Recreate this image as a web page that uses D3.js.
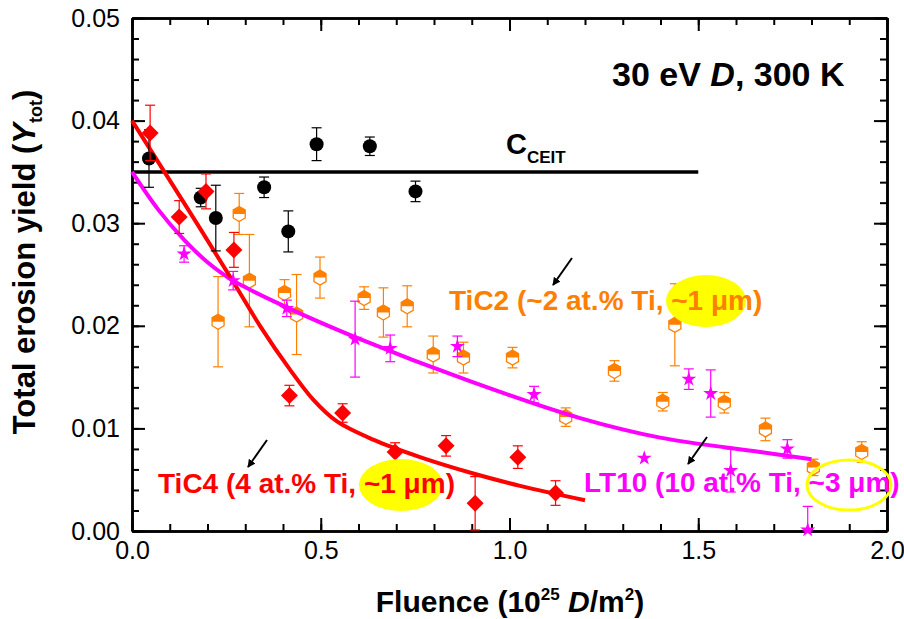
<!DOCTYPE html>
<meta charset="utf-8">
<script src="https://d3js.org/d3.v7.min.js"></script>
<style>
  body { margin: 0; background: #fff; }
  text { font-family: "Liberation Sans", Arial, sans-serif; }
</style>
<div id="chart"></div>
<script>

// C_CEIT reference (black circles)
var ceitX   = [0.045, 0.182, 0.222, 0.350, 0.414, 0.489, 0.630, 0.751];
var ceitY   = [0.0363, 0.0325, 0.0305, 0.0335, 0.0292, 0.0377, 0.0375, 0.0331];
var ceitErr = [0.0028, 0.0009, 0.0032, 0.0010, 0.0020, 0.0016, 0.0009, 0.0010];
var ceitLevel = [[0, 0.035], [1.5, 0.035]];

// TiC4 (red diamonds)
var tic4X   = [0.048, 0.125, 0.196, 0.270, 0.417, 0.558, 0.697, 0.832, 0.909, 1.022, 1.122];
var tic4Y   = [0.0388, 0.0306, 0.0331, 0.0274, 0.0132, 0.0115, 0.0077, 0.0083, 0.0027, 0.0072, 0.0037];
var tic4Err = [0.0027, 0.0016, 0.0017, 0.0017, 0.0010, 0.0009, 0.0009, 0.0010, 0.0026, 0.0011, 0.0012];
var tic4FitX = [0, 0.134, 0.268, 0.339, 0.419, 0.48, 0.542, 0.639, 0.763, 0.904, 1.028, 1.2];
var tic4FitY = [0.0400, 0.0322, 0.0243, 0.0200, 0.0157, 0.0128, 0.0107, 0.0089, 0.0072, 0.0056, 0.0044, 0.0030];

// TiC2 (orange half-filled hexagons)
var tic2X   = [0.228, 0.284, 0.311, 0.404, 0.436, 0.498, 0.615, 0.666, 0.729, 0.798, 0.878, 1.008, 1.149, 1.278, 1.406, 1.438, 1.569, 1.678, 1.805, 1.933];
var tic2Y   = [0.0204, 0.0309, 0.0244, 0.0232, 0.0211, 0.0247, 0.0227, 0.0213, 0.0219, 0.0172, 0.0169, 0.0169, 0.0111, 0.0156, 0.0126, 0.0201, 0.0125, 0.0099, 0.0062, 0.0077];
var tic2Err = [0.0044, 0.0020, 0.0045, 0.0013, 0.0039, 0.0020, 0.0011, 0.0024, 0.0020, 0.0018, 0.0015, 0.0010, 0.0009, 0.0010, 0.0009, 0.0040, 0.0010, 0.0011, 0.0008, 0.0010];

// LT10 (magenta stars)
var lt10X   = [0.138, 0.268, 0.410, 0.591, 0.684, 0.862, 1.065, 1.357, 1.475, 1.533, 1.586, 1.736, 1.790];
var lt10Y   = [0.0270, 0.0244, 0.0217, 0.0187, 0.0178, 0.0180, 0.0133, 0.0071, 0.0148, 0.0134, 0.0059, 0.0080, 0.0001];
var lt10Err = [0.0008, 0.0009, 0.0008, 0.0037, 0.0013, 0.0010, 0.0008, 0, 0.0010, 0.0023, 0.0021, 0.0009, 0.0023];
var lt10FitX = [0, 0.07, 0.14, 0.20, 0.268, 0.41, 0.591, 0.895, 1.187, 1.399, 1.664, 1.80];
var lt10FitY = [0.0350, 0.0313, 0.0283, 0.0262, 0.0244, 0.0218, 0.0189, 0.0146, 0.0110, 0.0091, 0.0077, 0.0070];

var xTicks = [0, 0.5, 1.0, 1.5, 2.0];
var yTicks = [0, 0.01, 0.02, 0.03, 0.04, 0.05];

var W = 904, H = 619;
var margin = {top: 18, right: 17, bottom: 88, left: 132},
    width = W - margin.left - margin.right,
    height = H - margin.top - margin.bottom;

var svg = d3.select("#chart")
  .append("svg")
    .attr("width", W)
    .attr("height", H)
  .append("g")
    .attr("transform", "translate(" + margin.left + "," + margin.top + ")");

var x = d3.scaleLinear().domain([0, 2.0]).range([0, width]);
var y = d3.scaleLinear().domain([0, 0.05]).range([height, 0]);

var xMinor = d3.range(0, 2.0001, 0.1);
var yMinor = d3.range(0, 0.05001, 0.002);

// minor ticks, all four sides, pointing in
svg.append("g").attr("class", "ax").attr("transform", "translate(0," + height + ")")
  .call(d3.axisBottom(x).tickValues(xMinor).tickSize(-7).tickSizeOuter(0).tickFormat(""));
svg.append("g").attr("class", "ax")
  .call(d3.axisTop(x).tickValues(xMinor).tickSize(-7).tickSizeOuter(0).tickFormat(""));
svg.append("g").attr("class", "ax")
  .call(d3.axisLeft(y).tickValues(yMinor).tickSize(-7).tickSizeOuter(0).tickFormat(""));
svg.append("g").attr("class", "ax").attr("transform", "translate(" + width + ",0)")
  .call(d3.axisRight(y).tickValues(yMinor).tickSize(-7).tickSizeOuter(0).tickFormat(""));

// major ticks with labels
svg.append("g").attr("class", "ax lab").attr("transform", "translate(0," + height + ")")
  .call(d3.axisBottom(x).tickValues(xTicks).tickSize(-13).tickSizeOuter(0).tickPadding(10).tickFormat(d3.format(".1f")));
svg.append("g").attr("class", "ax lab")
  .call(d3.axisLeft(y).tickValues(yTicks).tickSize(-13).tickSizeOuter(0).tickPadding(12).tickFormat(d3.format(".2f")));
svg.append("g").attr("class", "ax")
  .call(d3.axisTop(x).tickValues(xTicks).tickSize(-13).tickSizeOuter(0).tickFormat(""));
svg.append("g").attr("class", "ax").attr("transform", "translate(" + width + ",0)")
  .call(d3.axisRight(y).tickValues(yTicks).tickSize(-13).tickSizeOuter(0).tickFormat(""));

svg.selectAll(".ax path").attr("stroke", "#000").attr("stroke-width", 2.5);
svg.selectAll(".ax line").attr("stroke", "#000").attr("stroke-width", 2);
svg.selectAll(".lab text").attr("font-size", 25).attr("fill", "#000")
  .attr("font-family", "'Liberation Sans', Arial, sans-serif");

// helper to zip arrays
function zip(xs, ys, es) {
  return xs.map(function(v, i) { return {x: v, y: ys[i], e: es ? es[i] : 0}; });
}

var line = d3.line()
  .x(function(d) { return x(d[0]); })
  .y(function(d) { return y(d[1]); });

var fitLine = d3.line()
  .curve(d3.curveCatmullRom)
  .x(function(d) { return x(d.x); })
  .y(function(d) { return y(d.y); });

// error bars
function errorBars(data, color) {
  var g = svg.append("g").attr("stroke", color).attr("stroke-width", 1.2);
  data.filter(function(d) { return d.e > 0; }).forEach(function(d) {
    var t = y(Math.min(d.y + d.e, 0.05)), b = y(Math.max(d.y - d.e, 0));
    g.append("line").attr("x1", x(d.x)).attr("x2", x(d.x)).attr("y1", t).attr("y2", b);
    g.append("line").attr("x1", x(d.x) - 5).attr("x2", x(d.x) + 5).attr("y1", t).attr("y2", t);
    g.append("line").attr("x1", x(d.x) - 5).attr("x2", x(d.x) + 5).attr("y1", b).attr("y2", b);
  });
}

var ceit = zip(ceitX, ceitY, ceitErr);
var tic4 = zip(tic4X, tic4Y, tic4Err);
var tic2 = zip(tic2X, tic2Y, tic2Err);
var lt10 = zip(lt10X, lt10Y, lt10Err);

// C_CEIT level
svg.append("path").datum(ceitLevel)
  .attr("fill", "none").attr("stroke", "#000").attr("stroke-width", 3.5)
  .attr("d", line);

// TiC2 markers
errorBars(tic2, "#ff8000");
var hex = "M0,-7.5L6,-4L6,4L0,7.5L-6,4L-6,-4Z";
var hexTop = "M-6,0L-6,-4L0,-7.5L6,-4L6,0Z";
var t2 = svg.append("g").selectAll("g").data(tic2).enter().append("g")
  .attr("transform", function(d) { return "translate(" + x(d.x) + "," + y(d.y) + ")"; });
t2.append("path").attr("d", hex).attr("fill", "#fff").attr("stroke", "#ff8000").attr("stroke-width", 1.3);
t2.append("path").attr("d", hexTop).attr("fill", "#ff8000");

// fit curves
svg.append("path").datum(zip(lt10FitX, lt10FitY))
  .attr("fill", "none").attr("stroke", "#ff00ff").attr("stroke-width", 4)
  .attr("d", fitLine);
svg.append("path").datum(zip(tic4FitX, tic4FitY))
  .attr("fill", "none").attr("stroke", "#ff0000").attr("stroke-width", 4)
  .attr("d", fitLine);

// C_CEIT points
errorBars(ceit, "#000");
svg.append("g").selectAll("circle").data(ceit).enter().append("circle")
  .attr("cx", function(d) { return x(d.x); })
  .attr("cy", function(d) { return y(d.y); })
  .attr("r", 7).attr("fill", "#000");

// LT10 stars
errorBars(lt10, "#ff00ff");
svg.append("g").selectAll("path").data(lt10).enter().append("path")
  .attr("d", d3.symbol().type(d3.symbolStar).size(70))
  .attr("transform", function(d) { return "translate(" + x(d.x) + "," + y(d.y) + ")"; })
  .attr("fill", "#ff00ff");

// TiC4 diamonds
errorBars(tic4, "#ff0000");
svg.append("g").selectAll("path").data(tic4).enter().append("path")
  .attr("d", "M0,-8.5L8.5,0L0,8.5L-8.5,0Z")
  .attr("transform", function(d) { return "translate(" + x(d.x) + "," + y(d.y) + ")"; })
  .attr("fill", "#ff0000");

// overlay in page coordinates
var overlay = d3.select("svg").append("g");

// yellow highlights
overlay.append("ellipse").attr("cx", 706).attr("cy", 301).attr("rx", 40).attr("ry", 26).attr("fill", "#ffff00");
overlay.append("ellipse").attr("cx", 401).attr("cy", 485).attr("rx", 42).attr("ry", 26).attr("fill", "#ffff00");
overlay.append("ellipse").attr("cx", 849).attr("cy", 485).attr("rx", 42).attr("ry", 25)
  .attr("fill", "none").attr("stroke", "#ffff00").attr("stroke-width", 3);

// arrows
overlay.append("defs").append("marker")
  .attr("id", "head").attr("viewBox", "0 0 10 10").attr("refX", 9).attr("refY", 5)
  .attr("markerWidth", 4).attr("markerHeight", 4).attr("orient", "auto")
  .append("path").attr("d", "M0,0L10,5L0,10Z").attr("fill", "#000");
[[572, 258, 553, 285], [267, 440, 248, 467], [707, 437, 688, 464]].forEach(function(a) {
  overlay.append("line").attr("x1", a[0]).attr("y1", a[1]).attr("x2", a[2]).attr("y2", a[3])
    .attr("stroke", "#000").attr("stroke-width", 2).attr("marker-end", "url(#head)");
});

// labels
function label(xp, yp, color, size, parts) {
  var t = overlay.append("text").attr("x", xp).attr("y", yp).attr("fill", color)
    .attr("font-size", size).attr("font-weight", "bold");
  parts.forEach(function(p) {
    var s = t.append("tspan").text(p.t);
    if (p.i) s.attr("font-style", "italic");
    if (p.fs) s.attr("font-size", p.fs);
    if (p.dy) s.attr("dy", p.dy);
  });
  return t;
}

label(612, 86, "#000", 34, [{t: "30 eV "}, {t: "D", i: 1}, {t: ", 300 K"}]);
label(506, 154, "#000", 29, [{t: "C"}, {t: "CEIT", fs: 17, dy: 9}]);
label(449, 310, "#ff8000", 28, [{t: "TiC2 (~2 at.% Ti, ~1 \u03bcm)"}]);
label(158, 493, "#ff0000", 28, [{t: "TiC4 (4 at.% Ti, ~1 \u03bcm)"}]);
label(584, 492, "#ff00ff", 28, [{t: "LT10 (10 at.% Ti, ~3 \u03bcm)"}]);

// axis titles
var xt = label(510, 612, "#000", 30, [{t: "Fluence (10"}, {t: "25", fs: 17, dy: -12}, {t: " "}, {t: "D", i: 1, dy: 12}, {t: "/m"}, {t: "2", fs: 17, dy: -12}, {t: ")", dy: 12}]);
xt.attr("text-anchor", "middle");

var yt = label(0, 0, "#000", 31, [{t: "Total erosion yield ("}, {t: "Y", i: 1}, {t: "tot", fs: 18, dy: 7}, {t: ")", dy: -7}]);
yt.attr("text-anchor", "middle").attr("transform", "translate(35,262) rotate(-90)");

</script>
